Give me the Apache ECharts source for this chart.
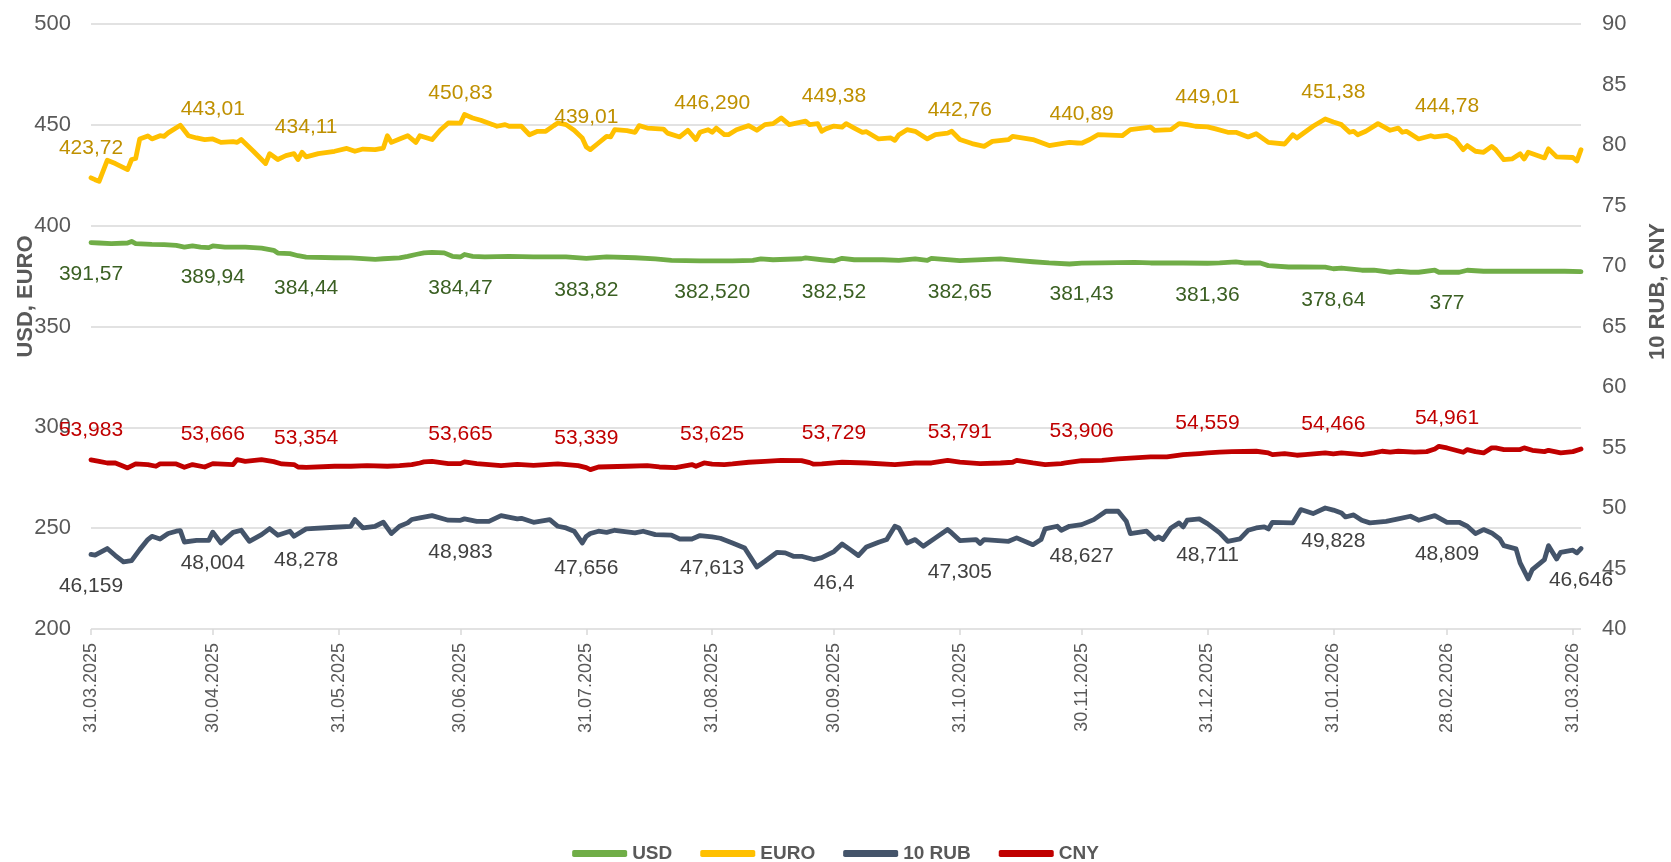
<!DOCTYPE html>
<html>
<head>
<meta charset="utf-8">
<script src="https://cdn.jsdelivr.net/npm/echarts@6/dist/echarts.min.js"></script>
<style>
  html, body { margin: 0; padding: 0; background: #fff; }
  #chart { width: 1671px; height: 862px; }
</style>
</head>
<body>
<div id="chart"></div>
<script>
// x values: days after 31.03.2025
const startDate = Date.UTC(2025, 2, 31);
const tickLabels = ['31.03.2025', '30.04.2025', '31.05.2025', '30.06.2025', '31.07.2025', '31.08.2025',
  '30.09.2025', '31.10.2025', '30.11.2025', '31.12.2025', '31.01.2026', '28.02.2026', '31.03.2026'];
const lastDay = 367; // 02.04.2026

const usd = [[0,391.57],[2,391.4],[5,391.1],[9,391.4],[10,392.2],[11,391.1],[15,390.7],[18,390.6],[21,390.2],[23,389.4],[25,390.0],[27,389.4],[29,389.1],[30,389.94],[33,389.4],[38,389.4],[42,388.9],[45,387.8],[46,386.4],[49,386.1],[51,385.1],[53,384.44],[60,384.1],[64,384.0],[68,383.5],[70,383.3],[72,383.6],[76,384.0],[78,384.8],[80,385.7],[82,386.5],[84,386.8],[87,386.5],[89,384.8],[91,384.47],[92,385.7],[94,384.8],[97,384.5],[103,384.8],[109,384.5],[117,384.5],[122,383.82],[127,384.5],[134,384.1],[139,383.5],[143,382.8],[150,382.5],[153,382.52],[158,382.5],[163,382.8],[165,383.5],[168,383.1],[175,383.6],[176,384.0],[180,383.1],[183,382.52],[185,383.8],[188,383.1],[195,383.1],[199,382.8],[203,383.5],[206,382.8],[207,383.8],[214,382.65],[224,383.5],[228,382.8],[232,382.1],[236,381.5],[241,381.0],[244,381.43],[249,381.5],[257,381.8],[261,381.5],[269,381.5],[275,381.36],[278,381.5],[282,382.0],[284,381.5],[288,381.5],[290,380.2],[295,379.5],[298,379.5],[304,379.4],[306,378.64],[308,379.0],[313,377.9],[316,377.9],[320,376.9],[322,377.4],[325,376.9],[327,376.9],[331,377.9],[332,376.9],[334,377],[337,376.9],[339,377.9],[343,377.4],[347,377.4],[355,377.4],[363,377.4],[367,377.2]];

const euro = [[0,423.72],[1,422.8],[2,422.0],[4,432.4],[6,430.8],[9,427.8],[10,432.8],[11,433.3],[12,443.0],[14,444.5],[15,443.0],[17,444.6],[18,444.3],[19,446.0],[22,449.8],[24,444.6],[26,443.5],[28,442.7],[30,443.01],[32,441.3],[35,441.7],[36,441.3],[37,442.7],[40,436.9],[43,430.8],[44,435.7],[46,432.8],[48,434.7],[50,435.7],[51,432.8],[52,436.4],[53,434.11],[56,435.7],[60,436.9],[63,438.3],[65,436.9],[67,438.0],[70,437.7],[72,438.5],[73,444.6],[74,441.3],[76,443.0],[78,444.6],[80,441.3],[81,444.6],[84,442.7],[86,447.3],[88,450.9],[91,450.83],[92,455.1],[94,453.4],[96,452.3],[99,450.1],[100,449.3],[102,450.1],[103,449.3],[106,449.3],[108,445.1],[110,446.8],[112,446.8],[114,449.6],[115,450.9],[117,450.1],[119,447.3],[121,443.5],[122,439.01],[123,437.7],[125,441.0],[127,444.3],[128,444.0],[129,447.6],[132,447.1],[134,446.3],[135,449.6],[137,448.4],[141,447.9],[142,445.9],[145,444.0],[147,447.3],[149,442.7],[150,446.3],[152,447.6],[153,446.29],[154,448.4],[156,445.1],[157,445.1],[159,447.6],[162,449.6],[164,447.3],[166,450.1],[168,450.6],[170,453.4],[172,450.1],[176,451.8],[177,450.1],[179,450.6],[180,446.8],[181,448.0],[183,449.38],[185,448.9],[186,450.6],[188,448.4],[190,446.3],[191,446.6],[194,443.0],[197,443.5],[198,442.3],[199,445.1],[201,447.6],[203,446.8],[206,443.0],[208,445.1],[211,445.9],[212,446.8],[214,442.76],[217,440.7],[220,439.3],[222,441.8],[226,442.7],[227,444.3],[232,442.7],[236,439.7],[239,440.7],[241,441.3],[243,441.0],[244,440.89],[246,442.7],[248,445.1],[254,444.6],[256,447.6],[261,448.9],[262,447.3],[266,447.6],[268,450.6],[270,450.1],[272,449.3],[275,449.01],[277,448.0],[280,446.3],[282,446.3],[285,444.0],[287,445.6],[290,441.3],[294,440.5],[296,445.1],[297,443.5],[301,449.3],[304,452.9],[306,451.38],[308,450.1],[310,446.3],[311,446.8],[312,445.1],[314,446.8],[317,450.6],[320,447.3],[322,448.4],[323,446.3],[324,446.8],[327,443.0],[330,444.6],[331,444.0],[334,444.78],[336,442.7],[338,437.7],[339,439.7],[341,436.9],[343,436.4],[345,439.3],[346,437.7],[348,432.7],[350,433.1],[352,435.7],[353,433.1],[354,436.4],[358,433.6],[359,438.1],[361,434.1],[365,433.8],[366,432.1],[367,437.7]];

const rub10 = [[0,46.159],[1,46.1],[4,46.65],[6,46.07],[8,45.54],[10,45.65],[12,46.56],[14,47.39],[15,47.66],[17,47.44],[19,47.89],[21,48.08],[22,48.13],[23,47.19],[26,47.33],[29,47.33],[30,48.004],[32,47.11],[35,47.99],[37,48.16],[39,47.25],[42,47.8],[44,48.3],[46,47.75],[49,48.08],[50,47.66],[53,48.278],[60,48.41],[64,48.49],[65,49.04],[67,48.35],[70,48.49],[72,48.82],[74,47.89],[76,48.49],[78,48.77],[79,49.05],[81,49.18],[84,49.37],[88,48.99],[91,48.983],[92,49.1],[95,48.9],[98,48.9],[101,49.37],[105,49.1],[106,49.15],[109,48.82],[113,49.04],[115,48.49],[117,48.35],[119,48.08],[121,47.11],[122,47.656],[123,47.89],[125,48.08],[127,47.99],[129,48.16],[134,47.94],[136,48.08],[139,47.8],[143,47.75],[145,47.44],[148,47.44],[150,47.72],[153,47.613],[155,47.5],[158,47.11],[161,46.7],[164,45.13],[166,45.6],[169,46.34],[171,46.29],[173,46.01],[175,46.01],[178,45.74],[180,45.9],[183,46.4],[185,47.03],[187,46.56],[189,46.07],[191,46.78],[194,47.17],[196,47.39],[198,48.49],[199,48.35],[201,47.11],[203,47.39],[205,46.84],[208,47.53],[211,48.22],[212,47.94],[214,47.305],[218,47.39],[219,47.06],[220,47.39],[226,47.25],[228,47.53],[232,46.97],[234,47.39],[235,48.27],[238,48.49],[239,48.16],[241,48.49],[244,48.627],[247,49.04],[250,49.73],[253,49.73],[255,48.9],[256,47.89],[260,48.08],[262,47.44],[263,47.61],[264,47.39],[266,48.35],[268,48.77],[269,48.44],[270,48.99],[273,49.1],[275,48.711],[278,47.95],[280,47.25],[283,47.44],[285,48.16],[287,48.35],[289,48.44],[290,48.27],[291,48.82],[296,48.77],[298,49.87],[301,49.54],[304,50.0],[306,49.828],[308,49.59],[309,49.26],[311,49.43],[313,48.99],[315,48.77],[319,48.9],[322,49.1],[325,49.32],[327,48.99],[331,49.37],[334,48.809],[337,48.82],[339,48.49],[341,47.89],[343,48.22],[345,47.94],[347,47.44],[348,46.89],[351,46.62],[352,45.46],[354,44.14],[355,44.91],[358,45.74],[359,46.89],[361,45.79],[362,46.34],[365,46.51],[366,46.29],[367,46.646]];

const cny = [[0,53.983],[2,53.86],[4,53.72],[6,53.72],[8,53.45],[9,53.31],[11,53.64],[14,53.59],[16,53.45],[17,53.64],[21,53.64],[23,53.37],[25,53.59],[28,53.39],[30,53.666],[35,53.59],[36,54.0],[38,53.86],[42,54.0],[45,53.83],[47,53.64],[50,53.59],[51,53.39],[53,53.354],[60,53.45],[64,53.45],[68,53.5],[73,53.45],[76,53.5],[79,53.59],[81,53.72],[82,53.81],[84,53.86],[88,53.67],[91,53.665],[92,53.81],[95,53.67],[101,53.5],[105,53.61],[109,53.53],[115,53.64],[120,53.5],[122,53.339],[123,53.17],[125,53.39],[132,53.45],[137,53.5],[140,53.39],[144,53.34],[148,53.59],[149,53.45],[151,53.72],[153,53.625],[156,53.59],[158,53.64],[162,53.78],[166,53.86],[170,53.94],[175,53.92],[177,53.75],[178,53.62],[180,53.65],[183,53.729],[185,53.78],[191,53.72],[198,53.59],[203,53.72],[207,53.72],[211,53.94],[214,53.791],[219,53.67],[224,53.72],[227,53.78],[228,53.94],[232,53.72],[235,53.59],[239,53.67],[240,53.72],[244,53.906],[249,53.94],[253,54.06],[257,54.14],[261,54.22],[265,54.22],[269,54.41],[273,54.5],[275,54.559],[278,54.61],[281,54.66],[287,54.69],[290,54.55],[291,54.41],[294,54.5],[297,54.36],[299,54.41],[304,54.55],[306,54.466],[308,54.55],[313,54.41],[316,54.55],[318,54.69],[320,54.61],[322,54.69],[326,54.61],[329,54.66],[331,54.88],[332,55.1],[334,54.961],[338,54.61],[339,54.83],[341,54.66],[343,54.55],[345,54.97],[346,54.97],[348,54.83],[352,54.83],[353,54.97],[355,54.77],[358,54.66],[359,54.77],[362,54.55],[365,54.66],[367,54.88]];

// data labels shown on the chart, keyed by day
const usdLabels = {0:'391,57',30:'389,94',53:'384,44',91:'384,47',122:'383,82',153:'382,520',183:'382,52',214:'382,65',244:'381,43',275:'381,36',306:'378,64',334:'377'};
const euroLabels = {0:'423,72',30:'443,01',53:'434,11',91:'450,83',122:'439,01',153:'446,290',183:'449,38',214:'442,76',244:'440,89',275:'449,01',306:'451,38',334:'444,78'};
const rubLabels = {0:'46,159',30:'48,004',53:'48,278',91:'48,983',122:'47,656',153:'47,613',183:'46,4',214:'47,305',244:'48,627',275:'48,711',306:'49,828',334:'48,809',367:'46,646'};
const cnyLabels = {0:'53,983',30:'53,666',53:'53,354',91:'53,665',122:'53,339',153:'53,625',183:'53,729',214:'53,791',244:'53,906',275:'54,559',306:'54,466',334:'54,961'};

const sans = "'Liberation Sans', Arial, sans-serif";
const grey = '#595959';

const tickDays = tickLabels.map(s => {
  const [d, m, y] = s.split('.').map(Number);
  return (Date.UTC(y, m - 1, d) - startDate) / 86400000;
});
const labelByDay = {};
tickDays.forEach((d, i) => { labelByDay[d] = tickLabels[i]; });

function withLabels(points, labels) {
  return points.map(([d, v]) => labels[d] !== undefined
    ? { value: [d, v], label: { show: true, formatter: labels[d] } }
    : [d, v]);
}

function lineSeries(name, points, labels, color, labelColor, pos, axis) {
  return {
    name: name,
    type: 'line',
    yAxisIndex: axis,
    data: withLabels(points, labels),
    showSymbol: true,
    showAllSymbol: true,
    symbol: 'circle',
    symbolSize: 0,
    lineStyle: { width: 4.8, color: color, cap: 'round', join: 'round' },
    itemStyle: { color: color },
    label: {
      show: false, position: pos, distance: pos === 'top' ? 19 : 21,
      color: labelColor, fontSize: 21, fontFamily: sans
    },
    emphasis: { disabled: true }
  };
}

const chart = echarts.init(document.getElementById('chart'), null, { renderer: 'canvas' });

chart.setOption({
  animation: false,
  backgroundColor: '#fff',
  grid: { left: 91, right: 90, top: 24, bottom: 233, outerBoundsMode: 'none' },
  legend: {
    top: 839,
    left: 'center',
    icon: 'roundRect',
    itemWidth: 55,
    itemHeight: 7,
    itemGap: 28,
    textStyle: { fontSize: 19, fontWeight: 'bold', color: grey, fontFamily: sans },
    data: ['USD', 'EURO', '10 RUB', 'CNY']
  },
  xAxis: {
    type: 'value',
    min: 0,
    max: lastDay,
    splitLine: { show: false },
    axisLine: { show: false },
    axisTick: { show: true, customValues: tickDays, length: 6, lineStyle: { color: '#d9d9d9', width: 1.5 } },
    axisLabel: {
      customValues: tickDays,
      formatter: v => labelByDay[v] || '',
      rotate: 90,
      margin: 14,
      fontSize: 18,
      color: grey,
      fontFamily: sans
    }
  },
  yAxis: [
    {
      type: 'value', position: 'left', min: 200, max: 500, interval: 50,
      name: 'USD, EURO', nameLocation: 'middle', nameGap: 54, nameRotate: 90, nameMoveOverlap: false,
      nameTextStyle: { fontSize: 22, fontWeight: 'bold', color: grey, fontFamily: sans, padding: [0, 0, 0, 60] },
      axisLine: { show: false }, axisTick: { show: false },
      axisLabel: { fontSize: 22, color: grey, margin: 20, fontFamily: sans },
      splitLine: { lineStyle: { color: '#d9d9d9', width: 1.5 } }
    },
    {
      type: 'value', position: 'right', min: 40, max: 90, interval: 5,
      name: '10 RUB, CNY', nameLocation: 'middle', nameGap: 66, nameRotate: 90, nameMoveOverlap: false,
      nameTextStyle: { fontSize: 22, fontWeight: 'bold', color: grey, fontFamily: sans, padding: [0, 0, 0, 70] },
      axisLine: { show: false }, axisTick: { show: false },
      axisLabel: { fontSize: 22, color: grey, margin: 21, fontFamily: sans },
      splitLine: { show: false }
    }
  ],
  series: [
    lineSeries('USD', usd, usdLabels, '#70ad47', '#3a5f22', 'bottom', 0),
    lineSeries('EURO', euro, euroLabels, '#ffc000', '#bf9000', 'top', 0),
    lineSeries('10 RUB', rub10, rubLabels, '#44546a', '#404040', 'bottom', 1),
    lineSeries('CNY', cny, cnyLabels, '#c00000', '#c00000', 'top', 1)
  ]
});
</script>
</body>
</html>
